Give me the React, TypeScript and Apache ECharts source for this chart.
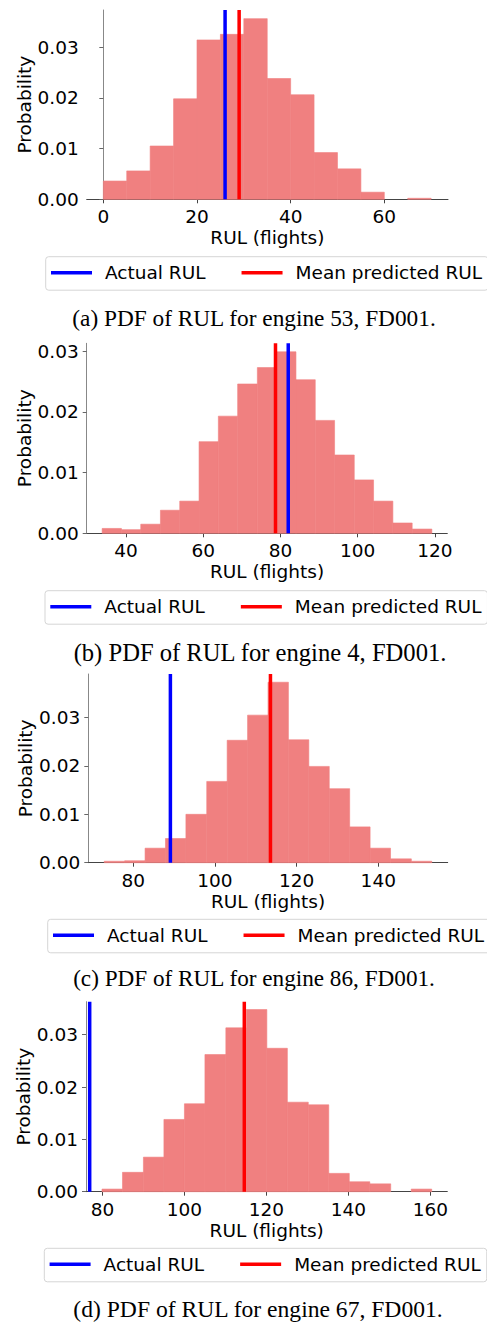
import React, { useEffect, useRef } from "react";
import * as echarts from "echarts";

// ---- Data ----
const edgesA = [0, 5, 10, 15, 20, 25, 30, 35, 40, 45, 50, 55, 60, 65, 70];
const probA = [0.0036, 0.0056, 0.0105, 0.0198, 0.0314, 0.0325, 0.0356, 0.0238, 0.0206, 0.0092, 0.006, 0.0014, 0, 0.0002];
const actualA = 26.0;
const meanA = 29.0;

const edgesB = [33.8, 38.8, 43.8, 48.9, 53.9, 58.9, 63.9, 68.9, 74.0, 79.0, 84.0, 89.0, 94.0, 99.1, 104.1, 109.1, 114.1, 119.2];
const probB = [0.0008, 0.0006, 0.0015, 0.0038, 0.0053, 0.0151, 0.0193, 0.0246, 0.0273, 0.0299, 0.0253, 0.0186, 0.0129, 0.0088, 0.0053, 0.0017, 0.0007];
const actualB = 82.0;
const meanB = 78.7;

const edgesC = [72.9, 77.9, 82.9, 87.9, 92.9, 98.0, 103.0, 108.0, 113.0, 118.0, 123.0, 128.0, 133.0, 138.0, 143.0, 148.1, 153.1];
const probC = [0.0003, 0.0004, 0.003, 0.005, 0.01, 0.0168, 0.0253, 0.0305, 0.0373, 0.0254, 0.0199, 0.0153, 0.0074, 0.003, 0.0008, 0.0003];
const actualC = 89.1;
const meanC = 113.6;

const edgesD = [79.9, 84.9, 90.0, 95.0, 100.0, 105.0, 110.1, 115.1, 120.1, 125.1, 130.2, 135.2, 140.2, 145.2, 150.3, 155.3, 160.3];
const probD = [0.0005, 0.0037, 0.0066, 0.0138, 0.0168, 0.0262, 0.0313, 0.0348, 0.0274, 0.0171, 0.0166, 0.0035, 0.0019, 0.0015, 0, 0.0005];
const actualD = 76.9;
const meanD = 114.6;

const xTicksA = [0, 20, 40, 60];
const xTicksB = [40, 60, 80, 100, 120];
const xTicksC = [80, 100, 120, 140];
const xTicksD = [80, 100, 120, 140, 160];
const yTicks = [0, 0.01, 0.02, 0.03];

const legendNames = ["Actual RUL", "Mean predicted RUL"];
const captions = [
  "(a) PDF of RUL for engine 53, FD001.",
  "(b) PDF of RUL for engine 4, FD001.",
  "(c) PDF of RUL for engine 86, FD001.",
  "(d) PDF of RUL for engine 67, FD001.",
];

// ---- Layout ----
const panels = [
  { edges: edgesA, prob: probA, actual: actualA, mean: meanA, xTicks: xTicksA, grid: { left: 86.7, top: 10, width: 361.3, height: 189.3 }, xMin: -3.55, xMax: 73.6, yMax: 0.0373, legend: { left: 45.7, top: 256.7 }, cap: { x: 254, y: 318, fs: 23.3 } },
  { edges: edgesB, prob: probB, actual: actualB, mean: meanB, xTicks: xTicksB, grid: { left: 86.7, top: 343.3, width: 360.6, height: 190 }, xMin: 29.8, xMax: 123.2, yMax: 0.0313, legend: { left: 45, top: 590.7 }, cap: { x: 260, y: 652, fs: 24.6 } },
  { edges: edgesC, prob: probC, actual: actualC, mean: meanC, xTicks: xTicksC, grid: { left: 88.3, top: 674, width: 359.4, height: 188.7 }, xMin: 69.0, xMax: 157.0, yMax: 0.039, legend: { left: 47.7, top: 919.3 }, cap: { x: 254, y: 978, fs: 23.2 } },
  { edges: edgesD, prob: probD, actual: actualD, mean: meanD, xTicks: xTicksD, grid: { left: 86, top: 1001.7, width: 361.3, height: 190 }, xMin: 76.0, xMax: 164.1, yMax: 0.0363, legend: { left: 44.3, top: 1248.3 }, cap: { x: 258, y: 1309, fs: 23.6 } },
];

const SANS = "DejaVu Sans";
const SERIF = "Liberation Serif";
const FS = 18.5;

export default function App() {
  const ref = useRef<HTMLDivElement>(null);

  useEffect(() => {
    if (!ref.current) return;
    const chart = echarts.init(ref.current, undefined, { renderer: "svg" });

    const grid: any[] = [];
    const xAxis: any[] = [];
    const yAxis: any[] = [];
    const series: any[] = [];
    const legend: any[] = [];
    const graphic: any[] = [];

    panels.forEach((p, i) => {
      grid.push({ ...p.grid, containLabel: false });
      xAxis.push({
        type: "value",
        gridIndex: i,
        min: p.xMin,
        max: p.xMax,
        name: "RUL (flights)",
        nameLocation: "middle",
        nameGap: 29,
        nameMoveOverlap: false,
        nameTextStyle: { fontFamily: SANS, fontSize: FS, color: "#000" },
        axisLine: { show: true, onZero: false, lineStyle: { color: "#444", width: 1 } },
        axisTick: { show: true, length: 4, inside: false, customValues: p.xTicks, lineStyle: { color: "#444" } },
        axisLabel: { show: true, margin: 8, fontFamily: SANS, fontSize: FS, color: "#000", customValues: p.xTicks },
        splitLine: { show: false },
      });
      yAxis.push({
        type: "value",
        gridIndex: i,
        min: 0,
        max: p.yMax,
        name: "Probability",
        nameLocation: "middle",
        nameGap: 53,
        nameMoveOverlap: false,
        nameTextStyle: { fontFamily: SANS, fontSize: FS, color: "#000" },
        axisLine: { show: true, lineStyle: { color: "#888", width: 1 } },
        axisTick: { show: true, length: 4, inside: false, customValues: yTicks, lineStyle: { color: "#666" } },
        axisLabel: {
          show: true,
          margin: 8,
          fontFamily: SANS,
          fontSize: FS,
          color: "#000",
          customValues: yTicks,
          formatter: (v: number) => v.toFixed(2),
        },
        splitLine: { show: false },
      });

      const histData = p.prob.map((h, k) => [p.edges[k], p.edges[k + 1], h]);
      series.push({
        type: "custom",
        name: "hist" + i,
        xAxisIndex: i,
        yAxisIndex: i,
        data: histData,
        encode: { x: [0, 1], y: 2 },
        z: 1,
        renderItem: (params: any, api: any) => {
          const x0 = api.value(0);
          const x1 = api.value(1);
          const h = api.value(2);
          const a = api.coord([x0, h]);
          const b = api.coord([x1, 0]);
          return {
            type: "rect",
            shape: { x: a[0], y: a[1], width: b[0] - a[0], height: b[1] - a[1] },
            style: { fill: "#F08080", stroke: h > 0 ? "#F08080" : "none", lineWidth: 0.6 },
          };
        },
      });
      series.push({
        type: "line",
        name: legendNames[0],
        xAxisIndex: i,
        yAxisIndex: i,
        data: [[p.actual, 0], [p.actual, p.yMax]],
        symbol: "none",
        color: "#0000FF",
        lineStyle: { color: "#0000FF", width: 3.5 },
        itemStyle: { color: "#0000FF" },
        z: 3,
      });
      series.push({
        type: "line",
        name: legendNames[1],
        xAxisIndex: i,
        yAxisIndex: i,
        data: [[p.mean, 0], [p.mean, p.yMax]],
        symbol: "none",
        color: "#FF0000",
        lineStyle: { color: "#FF0000", width: 3.5 },
        itemStyle: { color: "#FF0000" },
        z: 3,
      });

      legend.push({
        left: p.legend.left,
        top: p.legend.top,
        width: 480,
        orient: "horizontal",
        data: legendNames,
        icon: "rect",
        itemWidth: 41,
        itemHeight: 3.5,
        itemGap: 36,
        padding: [6.5, 6, 8, 5.3],
        borderColor: "#d5d5d5",
        borderWidth: 1,
        borderRadius: 3,
        selectedMode: false,
        textStyle: { fontFamily: SANS, fontSize: FS, color: "#000", padding: [0, 0, 0, 8] },
      });

      graphic.push({
        type: "text",
        x: p.cap.x,
        y: p.cap.y,
        style: {
          text: captions[i],
          fontFamily: SERIF,
          fontSize: p.cap.fs,
          fill: "#000",
          align: "center",
          verticalAlign: "middle",
        },
      });
    });

    chart.setOption({
      animation: false,
      backgroundColor: "#fff",
      textStyle: { fontFamily: SANS },
      grid,
      xAxis,
      yAxis,
      series,
      legend,
      graphic,
    });

    return () => chart.dispose();
  }, []);

  return (
    <div
      ref={ref}
      style={{ position: "absolute", left: 0, top: 0, width: 487, height: 1322, background: "#fff" }}
    />
  );
}
